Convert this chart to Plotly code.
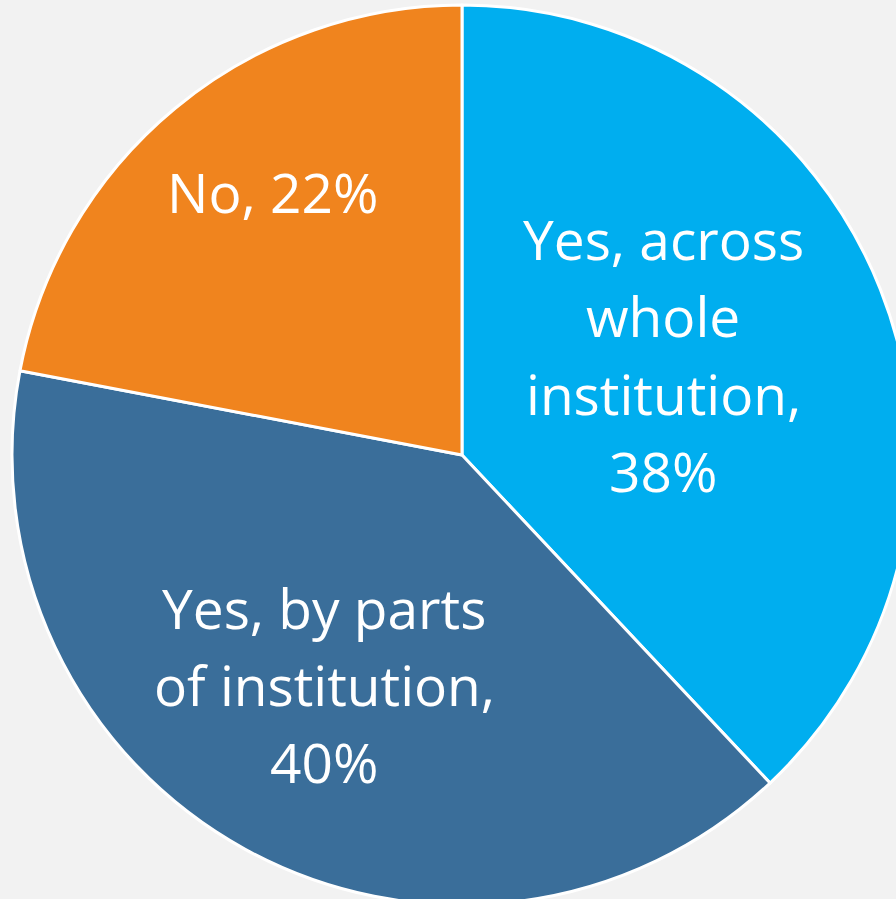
import plotly.graph_objects as go

labels = ["Yes, across whole institution", "Yes, by parts of institution", "No"]
values = [38, 40, 22]
label_lines = [["Yes, across", "whole", "institution,", "38%"],
               ["Yes, by parts", "of institution,", "40%"],
               ["No, 22%"]]
colors = ["#00AEEF", "#3A6E9A", "#F0841E"]

# layout: figure is slightly larger than the window so the pie is cropped like the reference
W, H = 930, 915
ML, MR, MT, MB = 12, 18, 5, 10
PW, PH = W - ML - MR, H - MT - MB
# label block centres (pixels) and line spacing
label_centres = [(663, 354.5), (324, 684.5), (272, 192)]
line_gap = 77.3
font = dict(family="Open Sans", size=55, color="white")

fig = go.Figure(go.Pie(
    labels=labels,
    values=values,
    textinfo="none",
    sort=False,
    direction="clockwise",
    rotation=0,
    marker=dict(colors=colors, line=dict(color="white", width=3)),
    hoverinfo="label+percent",
    showlegend=False,
))

annotations = []
for lines, (cx, cy) in zip(label_lines, label_centres):
    n = len(lines)
    for i, line in enumerate(lines):
        py = cy + (i - (n - 1) / 2) * line_gap
        annotations.append(dict(
            text=line, xref="paper", yref="paper",
            x=(cx - ML) / PW, y=(MT + PH - py) / PH,
            xanchor="center", yanchor="middle",
            showarrow=False, font=font,
        ))

fig.update_layout(
    width=W, height=H,
    margin=dict(l=ML, r=MR, t=MT, b=MB),
    paper_bgcolor="#F2F2F2",
    plot_bgcolor="#F2F2F2",
    annotations=annotations,
)

post = ("document.documentElement.style.overflow='hidden';"
        "document.body.style.overflow='hidden';"
        "document.body.style.margin='0';")
fig.write_html("out.html", post_script=post)
